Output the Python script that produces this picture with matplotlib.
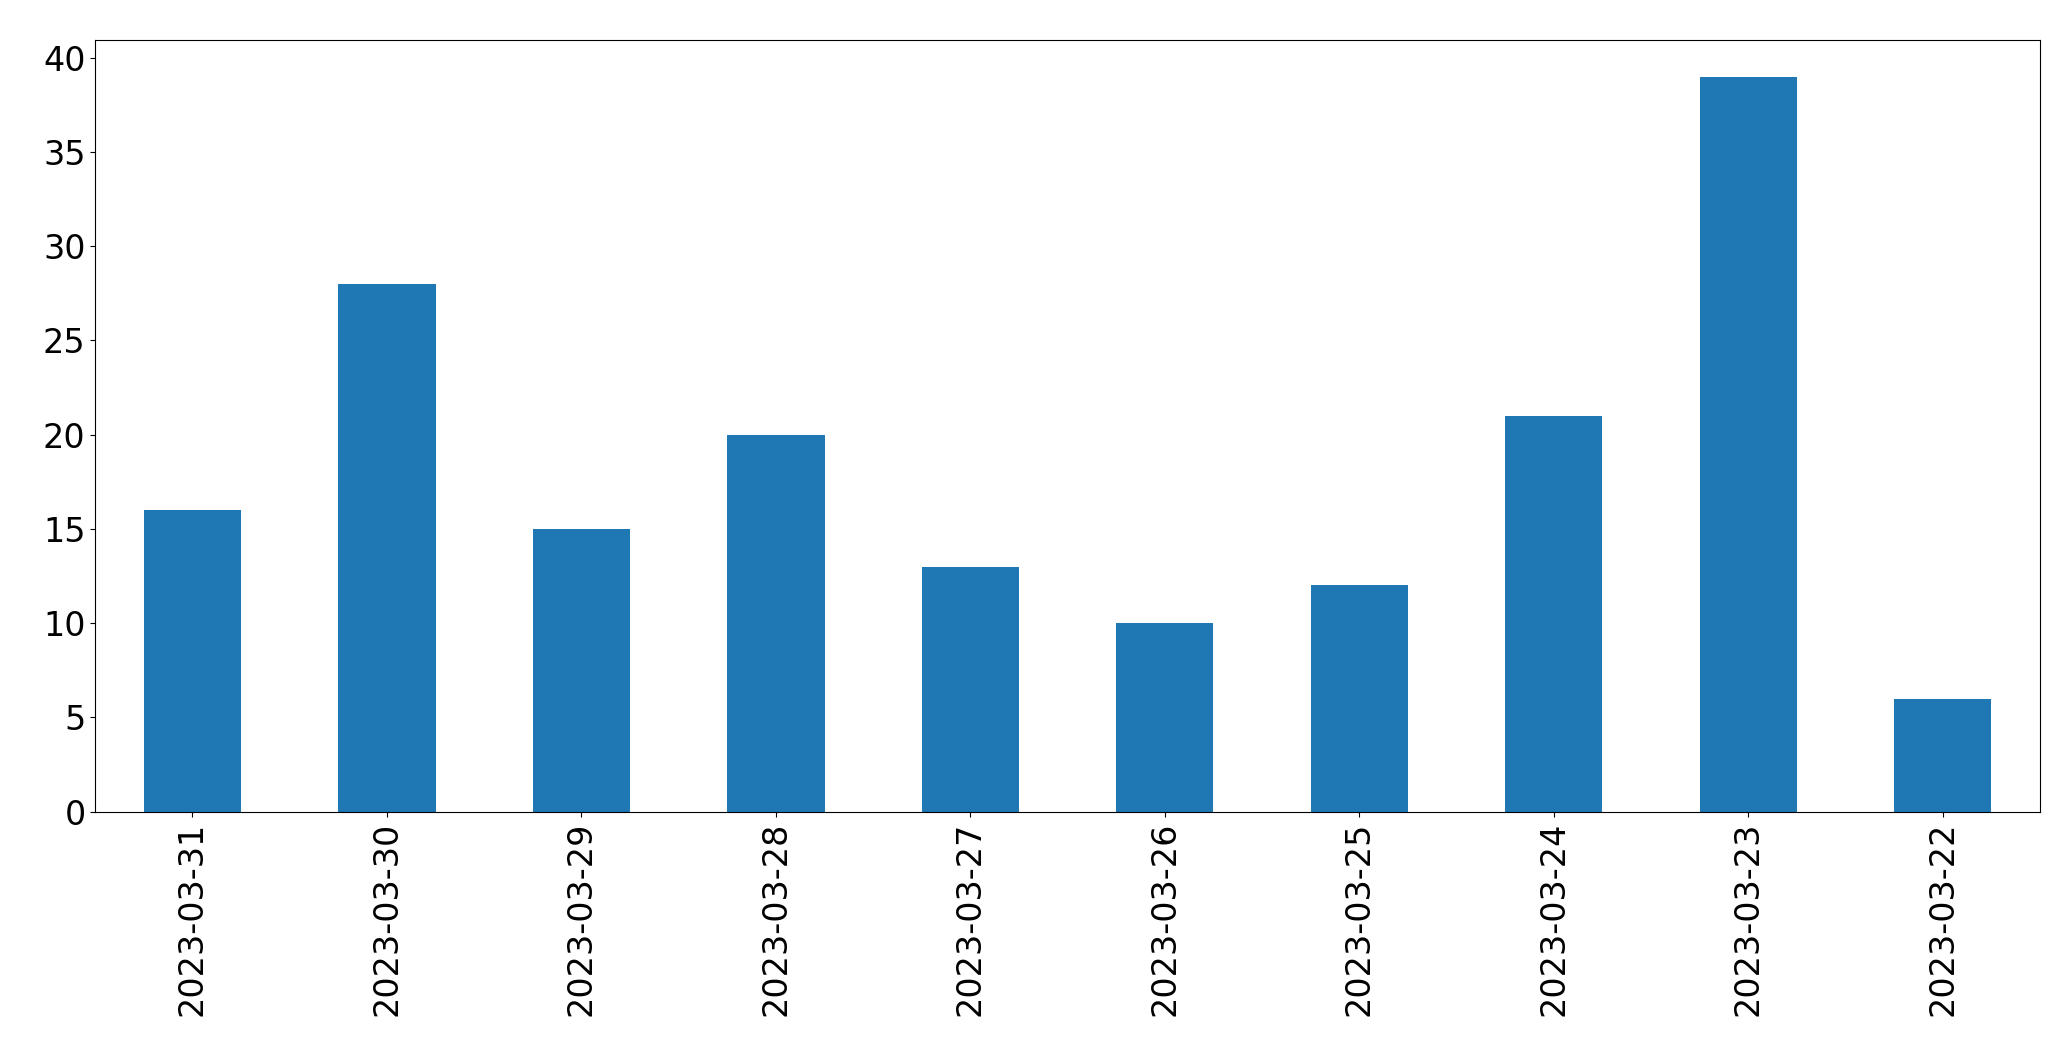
import matplotlib
matplotlib.use("Agg")
import matplotlib.pyplot as plt

dates = ["2023-03-31","2023-03-30","2023-03-29","2023-03-28","2023-03-27",
         "2023-03-26","2023-03-25","2023-03-24","2023-03-23","2023-03-22"]
counts = [16, 28, 15, 20, 13, 10, 12, 21, 39, 6]

fig = plt.figure(figsize=(20.71, 10.61), dpi=100)
ax = fig.add_axes([0.046, 0.235, 0.939, 0.7275])
x = list(range(len(dates)))
ax.bar(x, counts, width=0.5, color="#1f77b4")
ax.set_xlim(-0.5, len(dates) - 0.5)
ax.set_xticks(x)
ax.set_xticklabels(dates, rotation=90)
ax.tick_params(labelsize=24)
fig.savefig("out.png", dpi=100)
